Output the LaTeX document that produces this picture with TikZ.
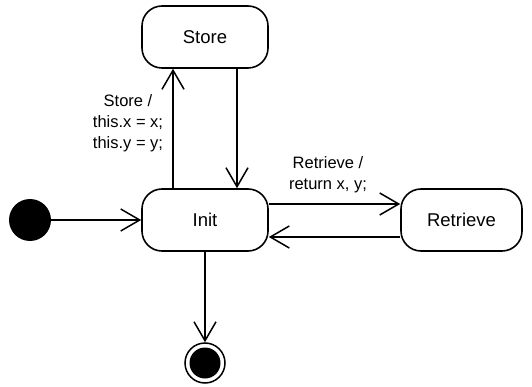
\documentclass[tikz,border=0pt]{standalone}
\usepackage{fontspec}
\setmainfont{Liberation Sans}
\usetikzlibrary{arrows.meta}
\begin{document}
\begin{tikzpicture}[x=1pt,y=-1pt,
  state/.style={draw, line width=1.6pt, rounded corners=20pt, minimum width=126pt, minimum height=62pt, font=\fontsize{18.5}{21}\selectfont, inner sep=0pt},
  conn/.style={line width=1.5pt, -{Straight Barb[length=19pt,width=22pt,line width=1.5pt]}},
  lbl/.style={font=\fontsize{16.5}{21}\selectfont, align=center, inner sep=0pt}]
\useasboundingbox (0,0) rectangle (532,387);
\node[state] (store) at (205,37) {Store};
\node[state] (init) at (205,220) {Init};
\node[state, minimum width=121pt] (retr) at (461.5,220) {Retrieve};
\node[circle, fill=black, minimum size=42pt, inner sep=0pt] (start) at (30,220) {};
\node[circle, draw=black, line width=1.5pt, minimum size=40pt, inner sep=0pt] (final) at (205,363) {};
\node[circle, fill=black, minimum size=31pt, inner sep=0pt] (finalin) at (205,363) {};
\draw[conn] ([xshift=-32pt]init.north) -- ([xshift=-32pt]store.south);
\draw[conn] ([xshift=32pt]store.south) -- ([xshift=32pt]init.north);
\draw[conn] (init.east |- 0,204) -- (retr.west |- 0,204);
\draw[conn] (retr.west |- 0,237) -- (init.east |- 0,237);
\draw[conn] (start) -- (init);
\draw[conn] (init) -- (final);
\node[lbl] (l1) at (128,123) {Store /\\this.x = x;\\this.y = y;};
\node[lbl] (l2) at (328,175) {Retrieve /\\return x, y;};
\end{tikzpicture}
\end{document}
